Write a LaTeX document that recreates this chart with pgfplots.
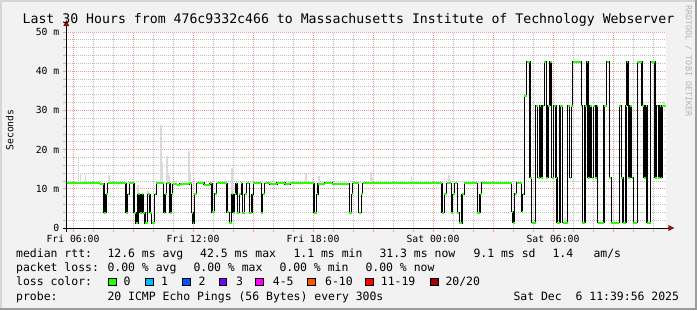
\documentclass[border=0pt]{standalone}
\usepackage{fontspec}
\setmainfont{DejaVu Sans Mono}
\usepackage{pgfplots}
\usepackage{pgfplotstable}
\pgfplotsset{compat=1.18}
\definecolor{bgc}{HTML}{F2F2F2}
\definecolor{lightedge}{HTML}{D6D6D6}
\definecolor{darkedge}{HTML}{9C9C9C}
\definecolor{mgrid}{HTML}{F29A9A}
\definecolor{mingrid}{HTML}{BDBDBD}
\definecolor{smoke}{HTML}{DADADA}
\definecolor{arrowred}{HTML}{8B1515}
\definecolor{lossA}{HTML}{26FF00}
\definecolor{lossB}{HTML}{00B8FF}
\definecolor{lossC}{HTML}{0059FF}
\definecolor{lossD}{HTML}{7A00FF}
\definecolor{lossE}{HTML}{FF00FF}
\definecolor{lossF}{HTML}{FF5500}
\definecolor{lossG}{HTML}{FF0000}
\definecolor{lossH}{HTML}{A00000}
\definecolor{wmark}{HTML}{B4B4B4}
\newcommand\legfont{\fontsize{11.5}{13}\selectfont}
\newcommand\tickfont{\fontsize{9.8}{11}\selectfont}

\pgfplotstableread{
x y
5.667 11.4
6.585 11.6
6.90 11.4
7.35 11.3
7.55 3.9
7.65 8.6
7.735 11.4
8.10 11.6
8.25 11.4
8.65 3.9
8.735 8.6
8.815 11.4
9.05 3.9
9.15 1.2
9.25 8.6
9.35 3.9
9.435 8.6
9.50 3.9
9.60 1.2
9.735 8.6
9.85 3.9
9.935 1.2
10.085 8.6
10.165 11.4
10.535 3.9
10.60 8.6
10.685 11.4
10.85 3.9
10.935 8.6
10.985 11.1
11.20 11.0
11.35 11.2
11.80 11.4
11.935 3.9
12.00 1.2
12.065 8.6
12.185 11.4
12.35 11.6
12.55 11.05
12.85 11.4
12.95 4.0
13.085 8.7
13.185 11.4
13.70 4.0
13.815 1.3
13.935 8.6
14.00 3.9
14.085 8.6
14.15 11.4
14.215 3.9
14.315 8.6
14.415 11.4
14.465 3.9
14.585 8.6
14.685 11.4
14.815 3.9
14.95 8.6
15.015 11.4
15.415 3.9
15.485 8.6
15.585 11.4
15.85 11.2
16.20 11.6
16.60 11.2
16.85 11.4
18.05 3.9
18.185 8.6
18.25 11.3
18.60 11.6
18.95 11.3
19.815 3.9
19.935 8.6
19.985 11.4
20.285 3.9
20.415 8.6
20.485 11.4
24.45 3.9
24.565 8.6
24.685 11.4
24.915 3.9
24.985 8.6
25.085 11.4
25.215 3.9
25.315 1.3
25.45 8.6
25.565 11.4
26.215 3.9
26.35 8.6
26.435 11.6
27.0 11.4
27.2 11.6
27.935 4.2
28.0 1.4
28.085 8.7
28.185 11.6
28.435 4.2
28.485 8.6
28.565 33.8
28.685 42.4
28.85 12.8
28.935 1.4
29.135 31.2
29.235 12.8
29.335 31.2
29.40 12.8
29.485 31.2
29.565 42.4
29.665 12.8
29.75 31.2
29.85 42.4
29.935 12.8
30.035 31.2
30.15 12.8
30.20 1.4
30.35 31.2
30.485 1.4
30.735 31.2
30.835 12.8
30.915 31.2
30.985 42.4
31.415 31.2
31.465 1.4
31.60 31.2
31.685 42.4
31.75 12.8
31.85 31.2
31.935 12.8
32.015 31.2
32.115 12.8
32.185 31.2
32.235 1.4
32.55 31.2
32.685 42.4
32.815 12.8
32.915 1.4
33.315 31.2
33.415 12.8
33.50 1.4
33.65 31.2
33.70 42.4
33.765 12.8
33.85 31.2
33.935 12.8
34.015 1.4
34.215 42.4
34.45 31.2
34.55 12.8
34.635 31.2
34.70 1.4
34.885 42.4
35.10 12.8
35.185 31.2
35.265 12.8
35.335 31.2
35.40 12.8
35.465 31.2
35.667 31.2
}\mediantable

\begin{document}
\begin{tikzpicture}[x=1bp,y=1bp]
\fill[bgc] (0,0) rectangle (697,310);
\fill[lightedge] (0,0) rectangle (2,310);
\fill[lightedge] (0,308) rectangle (697,310);
\fill[darkedge] (695,0) rectangle (697,310);
\fill[darkedge] (0,0) rectangle (697,2);
\path[use as bounding box] (0,0) rectangle (697,310);

\begin{axis}[
  at={(66.33bp,82bp)}, anchor=south west,
  scale only axis, width=600bp, height=196bp,
  xmin=5.6667, xmax=35.6667, ymin=0, ymax=50,
  axis background/.style={fill=white},
  axis line style={draw=none},
  tick pos=left, tick align=outside,
  xtick={6,12,18,24,30},
  xticklabels={Fri 06:00,Fri 12:00,Fri 18:00,Sat 00:00,Sat 06:00},
  extra x ticks={9,15,21,27,33},
  extra x tick labels={},
  extra x tick style={grid=major},
  minor xtick={6,...,35},
  ytick={0,10,...,50},
  yticklabels={0,10 m,20 m,30 m,40 m,50 m},
  minor ytick={2,4,...,48},
  grid=both,
  major grid style={mgrid, line width=0.8bp, dash pattern=on 1bp off 1bp},
  minor grid style={mingrid, line width=0.8bp, dash pattern=on 1bp off 1bp},
  major tick length=3.5bp, minor tick length=3.5bp,
  every major tick/.style={mgrid, line width=0.8bp},
  every minor tick/.style={mingrid, line width=0.8bp},
  ticklabel style={font=\tickfont, text=black},
  xticklabel style={anchor=north},
  yticklabel style={anchor=east},
  clip=true,
]
\addplot[draw=none, mark=none, forget plot,
  error bars/.cd, y dir=plus, y explicit, error mark=none,
  error bar style={draw=smoke, line width=1.8bp, solid}]
coordinates {
 (6.28,11.4) +- (0,6.4)
 (6.38,11.4) +- (0,2.6)
 (6.63,11.6) +- (0,1.9)
 (7.80,11.4) +- (0,2.1)
 (9.27,8.6) +- (0,2.4)
 (9.76,8.6) +- (0,0.9)
 (10.39,11.4) +- (0,14.9)
 (10.47,11.4) +- (0,5.5)
 (10.72,11.4) +- (0,7.0)
 (10.80,11.1) +- (0,2.4)
 (11.79,11.4) +- (0,8.3)
 (11.88,11.4) +- (0,3.0)
 (13.96,8.6) +- (0,6.6)
 (17.64,11.4) +- (0,2.6)
 (17.97,11.4) +- (0,1.3)
 (18.28,11.3) +- (0,2.0)
 (20.93,11.4) +- (0,1.3)
 (20.90,11.4) +- (0,3.0)
 (22.92,11.4) +- (0,1.9)
 (24.79,11.4) +- (0,2.1)
 (30.60,1.4) +- (0,1.1)
 (33.02,1.4) +- (0,2.5)
 (34.48,31.2) +- (0,1.3)
 (35.53,31.2) +- (0,1.3)
};
\addplot[black, line width=1.2bp, const plot mark left, mark=none] table[x=x,y=y] {\mediantable};
\addplot[lossA, line width=2bp, jump mark left, mark=none] table[x=x,y=y] {\mediantable};
\end{axis}

% axis lines and arrows
\draw[black, line width=1bp] (63,82) -- (669,82);
\draw[black, line width=1bp] (66.33,78) -- (66.33,285);
\fill[arrowred] (668.3,85) -- (668.3,79) -- (674.5,82) -- cycle;
\fill[arrowred] (63.3,284) -- (69.3,284) -- (66.33,290) -- cycle;

% title and labels
\node[anchor=base, inner sep=0, font=\fontsize{13.25}{15}\selectfont] at (348.5,287) {Last 30 Hours from 476c9332c466 to Massachusetts Institute of Technology Webserver};
\node[anchor=base, inner sep=0, rotate=90, font=\tickfont] at (13.3,180) {Seconds};
\node[anchor=center, inner sep=0, rotate=-90, text=wmark, font=\fontsize{8.4}{10}\selectfont] at (688.5,249) {RRDTOOL / TOBI OETIKER};

% legend
\begin{scope}[every node/.style={anchor=base west, inner sep=0, font=\legfont}]
\node at (16,52.3) {median rtt:};
\node at (107.3,52.3) {12.6 ms avg};
\node at (200,52.3) {42.5 ms max};
\node at (293.3,52.3) {1.1 ms min};
\node at (379.3,52.3) {31.3 ms now};
\node at (473.3,52.3) {9.1 ms sd};
\node at (552.3,52.3) {1.4};
\node at (593.3,52.3) {am/s};
\node at (16,38.3) {packet loss:};
\node at (107.3,38.3) {0.00 \% avg};
\node at (193.3,38.3) {0.00 \% max};
\node at (279.3,38.3) {0.00 \% min};
\node at (365.3,38.3) {0.00 \% now};
\node at (16,24.3) {loss color:};
\node at (123.3,24.3) {0};
\node at (161,24.3) {1};
\node at (198.3,24.3) {2};
\node at (236,24.3) {3};
\node at (272.7,24.3) {4-5};
\node at (325,24.3) {6-10};
\node at (380.7,24.3) {11-19};
\node at (445.3,24.3) {20/20};
\node at (16,10) {probe:};
\node at (107.3,10) {20 ICMP Echo Pings (56 Bytes) every 300s};
\node at (513.3,10) {Sat Dec\ \ 6 11:39:56 2025};
\end{scope}
\foreach \bx/\bc in {108.3/lossA,145.7/lossB,182.3/lossC,219/lossD,255.7/lossE,307.3/lossF,365.3/lossG,430.7/lossH}{
  \filldraw[fill=\bc, draw=black, line width=0.8bp] (\bx,24.5) rectangle ++(7.6,7.6);
}
\end{tikzpicture}
\end{document}
